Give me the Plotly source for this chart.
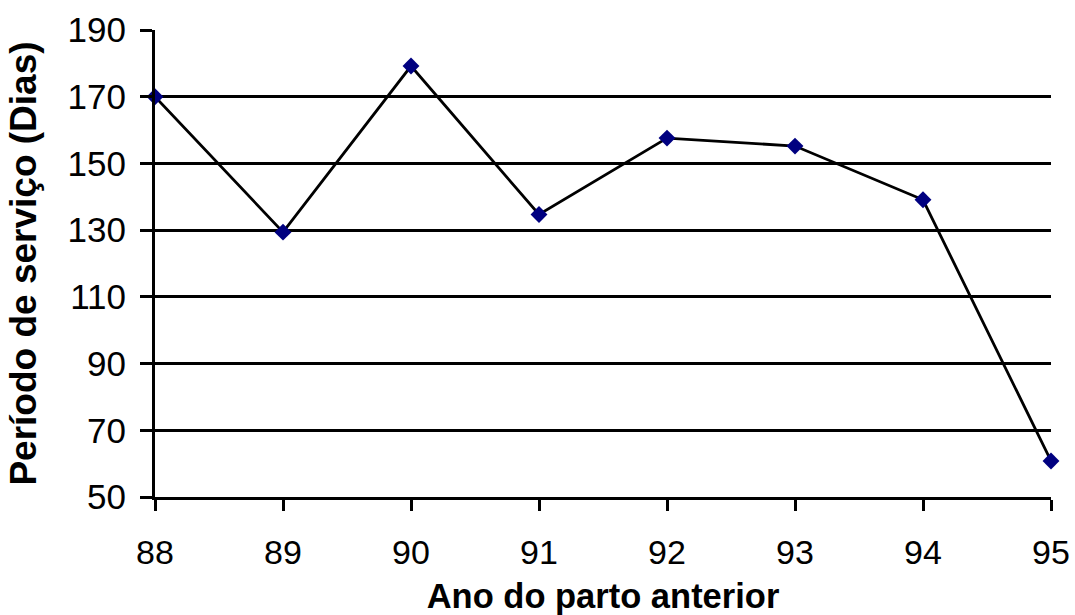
import plotly.graph_objects as go

# Ano do parto anterior vs. período de serviço médio (dias)
anos = [88, 89, 90, 91, 92, 93, 94, 95]
periodo_servico = [170, 129.4, 179.2, 134.7, 157.6, 155.2, 139.1, 60.8]
y_ticks = [50, 70, 90, 110, 130, 150, 170, 190]

FONT = "Arial, 'Liberation Sans', sans-serif"

fig = go.Figure(
    go.Scatter(
        x=anos,
        y=periodo_servico,
        mode="lines+markers",
        line=dict(color="black", width=2.8),
        marker=dict(symbol="diamond", size=13, color="#000080",
                    line=dict(width=0)),
        cliponaxis=False,
        showlegend=False,
    )
)

fig.update_layout(
    width=1075,
    height=615,
    margin=dict(l=155, r=24, t=30, b=118),
    paper_bgcolor="white",
    plot_bgcolor="white",
    font=dict(family=FONT, size=34, color="black"),
)

fig.update_xaxes(
    range=[anos[0], anos[-1]],
    tickvals=anos,
    ticktext=[str(a) for a in anos],
    automargin=False,
    showgrid=False,
    zeroline=False,
    showline=True,
    linecolor="black",
    linewidth=3,
    ticks="outside",
    ticklen=11,
    tickwidth=3,
    tickcolor="black",
    ticklabelstandoff=12,
    tickfont=dict(family=FONT, size=34, color="black"),
    title=dict(text="<b>Ano do parto anterior</b>",
               font=dict(family=FONT, size=34.5, color="black"),
               standoff=15),
)

fig.update_yaxes(
    range=[50, 190],
    tickvals=y_ticks,
    automargin=False,
    showgrid=True,
    gridcolor="black",
    gridwidth=3,
    zeroline=False,
    showline=True,
    linecolor="black",
    linewidth=3,
    ticks="outside",
    ticklen=12,
    tickwidth=3,
    tickcolor="black",
    ticklabelstandoff=7,
    tickfont=dict(family=FONT, size=35, color="black"),
    title=dict(text="<b>Período de serviço (Dias)</b>",
               font=dict(family=FONT, size=37, color="black"),
               standoff=20),
)

fig.write_html("out.html")
